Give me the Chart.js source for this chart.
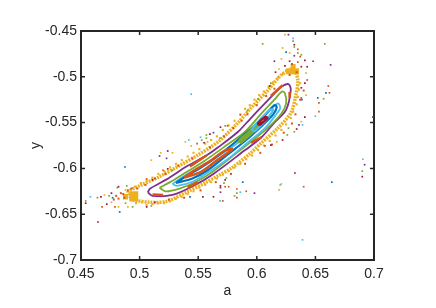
<!DOCTYPE html>
<html>
<head>
<meta charset="utf-8">
<style>
  html, body { margin: 0; padding: 0; background: #fff; }
  canvas { display: block; }
</style>
<script src="https://cdn.jsdelivr.net/npm/chart.js@4/dist/chart.umd.min.js"></script>
</head>
<body>
<canvas id="orbitChart" width="436" height="308"></canvas>
<script>
const xTicks = ["0.45", "0.5", "0.55", "0.6", "0.65", "0.7"];
const yTicks = ["-0.7", "-0.65", "-0.6", "-0.55", "-0.5", "-0.45"];

// closed curves as [a, y]
const bandLoop = [[.494,-.6345],[.509,-.637],[.523,-.636],[.540,-.626],[.557,-.615],[.567,-.608],[.578,-.600],[.595,-.583],[.604,-.572],[.618,-.556],[.629,-.5395],[.633,-.522],[.635,-.5035],[.631,-.4925],[.621,-.498],[.610,-.514],[.595,-.534],[.584,-.550],[.567,-.571],[.549,-.586],[.534,-.597],[.517,-.609],[.500,-.619],[.490,-.626]];
const purpleLoop = [[.507,-.626],[.511,-.630],[.528,-.629],[.546,-.619],[.563,-.606],[.590,-.580],[.604,-.566],[.615,-.550],[.625,-.536],[.629,-.514],[.627,-.508],[.621,-.511],[.610,-.525],[.595,-.545],[.584,-.560],[.567,-.577],[.557,-.586],[.540,-.598],[.523,-.612],[.509,-.622]];
const greenLoop = [[.517,-.621],[.522,-.625],[.534,-.622],[.549,-.614],[.563,-.603],[.581,-.585],[.595,-.571],[.610,-.555],[.621,-.540],[.625,-.529],[.624,-.518],[.6215,-.516],[.615,-.525],[.604,-.540],[.590,-.560],[.575,-.574],[.554,-.593],[.540,-.604],[.526,-.615]];
const cyanLoop = [[.528,-.617],[.532,-.619],[.546,-.614],[.560,-.603],[.577,-.588],[.592,-.572],[.607,-.556],[.616,-.542],[.620,-.534],[.618,-.529],[.610,-.538],[.598,-.555],[.584,-.572],[.569,-.585],[.552,-.598],[.537,-.609]];
const blueLoop = [[.531,-.616],[.545,-.611],[.558,-.602],[.575,-.585],[.591,-.569],[.604,-.554],[.614,-.541],[.617,-.533],[.615,-.531],[.607,-.542],[.594,-.558],[.581,-.572],[.564,-.589],[.550,-.601],[.539,-.609]];
const orangeCore = [[.538,-.610],[.552,-.604],[.564,-.593],[.579,-.579],[.572,-.581],[.560,-.592],[.547,-.602]];
const greenCore = [[.586,-.572],[.596,-.561],[.604,-.550],[.601,-.551],[.592,-.562],[.585,-.570]];
const cyanCore = [[.598,-.560],[.608,-.547],[.614,-.536],[.611,-.536],[.604,-.545],[.596,-.557]];
const redCore = [[.602,-.553],[.609,-.545],[.607,-.544],[.601,-.551]];

// short orange stretches lying on the purple curve
const orangeStretches = [[[.511,-.6285],[.520,-.629]],[[.541,-.621],[.550,-.615]],[[.543,-.598],[.557,-.586]],[[.612,-.521],[.622,-.509]],[[.628,-.5165],[.628,-.523]],[[.595,-.572],[.604,-.566]]];
// thick yellow clumps where the band turns
const leftClumps = [[[.495,-.625],[.495,-.636]],[[.488,-.628],[.488,-.634]]];
const topClumps = [[[.625,-.494],[.636,-.494]],[[.631,-.486],[.631,-.496]]];

// dots making up the outer band
const bandYellow = [[.497,-.638],[.502,-.637],[.506,-.640],[.511,-.639],[.516,-.638],[.521,-.638],[.526,-.636],[.531,-.633],[.536,-.631],[.541,-.628],[.546,-.625],[.551,-.621],[.556,-.618],[.561,-.615],[.566,-.611],[.571,-.607],[.576,-.603],[.581,-.599],[.586,-.595],[.591,-.590],[.596,-.586],[.601,-.580],[.606,-.575],[.611,-.570],[.616,-.564],[.621,-.558],[.625,-.552],[.629,-.545],[.631,-.538],[.634,-.530],[.635,-.522],[.636,-.514],[.637,-.507],[.629,-.491],[.625,-.493],[.622,-.497],[.618,-.501],[.614,-.506],[.610,-.511],[.606,-.516],[.602,-.520],[.598,-.525],[.594,-.531],[.590,-.535],[.586,-.541],[.581,-.548],[.576,-.553],[.571,-.558],[.566,-.565],[.561,-.569],[.556,-.573],[.551,-.579],[.546,-.583],[.541,-.587],[.536,-.591],[.531,-.595],[.526,-.599],[.521,-.603],[.516,-.606],[.511,-.610],[.506,-.613],[.501,-.616],[.496,-.620]];
const bandOrange = [[.480,-.630],[.484,-.627],[.487,-.632],[.490,-.624],[.493,-.622],[.486,-.628],[.482,-.633],[.478,-.634],[.498,-.622],[.505,-.618],[.513,-.611],[.522,-.606],[.533,-.597],[.545,-.589],[.560,-.577],[.572,-.565],[.580,-.556],[.587,-.548],[.592,-.541],[.600,-.531],[.608,-.521],[.615,-.513],[.525,-.634],[.538,-.632],[.552,-.624],[.565,-.615],[.578,-.606],[.590,-.595],[.603,-.583],[.613,-.574],[.623,-.561],[.630,-.551],[.633,-.541],[.637,-.525],[.640,-.515],[.628,-.498],[.630,-.486],[.634,-.495]];

// stray dots, one list per colour
const strayBlue = [[.4875,-.5985],[.477,-.632],[.483,-.6475],[.543,-.631],[.625,-.473],[.659,-.5175],[.6385,-.525],[.652,-.523],[.664,-.615],[.588,-.615]];
const strayCyan = [[.544,-.519],[.542,-.569],[.552,-.566],[.631,-.458],[.650,-.543],[.639,-.5525],[.458,-.631],[.6905,-.590],[.620,-.618],[.586,-.626],[.5686,-.6355],[.639,-.678]];
const strayGreen = [[.557,-.5635],[.553,-.569],[.557,-.567],[.605,-.464],[.658,-.464],[.631,-.461],[.632,-.4675],[.638,-.476],[.635,-.474],[.612,-.507],[.601,-.524],[.592,-.537],[.573,-.5535],[.5686,-.567],[.657,-.524],[.632,-.560],[.627,-.556],[.626,-.5635],[.528,-.602],[.481,-.621],[.489,-.619],[.454,-.6355],[.464,-.632],[.474,-.630],[.488,-.638],[.494,-.642],[.510,-.641],[.690,-.603],[.583,-.627],[.581,-.630],[.574,-.6105],[.572,-.616]];
const strayYellow = [[.539,-.571],[.544,-.5755],[.558,-.571],[.518,-.583],[.528,-.583],[.622,-.4685],[.628,-.474],[.621,-.4805],[.619,-.4915],[.642,-.496],[.642,-.520],[.638,-.549],[.617,-.571],[.510,-.591],[.488,-.6235],[.470,-.629],[.476,-.637],[.482,-.642],[.490,-.642],[.621,-.617],[.619,-.6235],[.624,-.454]];
const strayOrange = [[.549,-.573],[.635,-.470],[.637,-.478],[.635,-.484],[.643,-.5035],[.661,-.510],[.662,-.5175],[.638,-.523],[.653,-.5285],[.653,-.538],[.586,-.5415],[.575,-.5535],[.607,-.5755],[.506,-.6115],[.520,-.602],[.468,-.642],[.479,-.642],[.640,-.620],[.591,-.625],[.583,-.6225],[.583,-.632],[.573,-.620],[.576,-.620],[.571,-.6355]];
const strayPurple = [[.563,-.561],[.627,-.454],[.632,-.477],[.615,-.483],[.648,-.483],[.663,-.487],[.636,-.5525],[.699,-.544],[.517,-.5865],[.523,-.589],[.692,-.596],[.598,-.627],[.569,-.626]];
const strayRed = [[.560,-.5625],[.555,-.572],[.524,-.581],[.632,-.465],[.641,-.482],[.628,-.483],[.638,-.489],[.643,-.489],[.624,-.488],[.616,-.495],[.641,-.507],[.611,-.510],[.638,-.512],[.641,-.544],[.634,-.557],[.569,-.555],[.622,-.569],[.612,-.5745],[.482,-.620],[.511,-.6125],[.524,-.6005],[.454,-.638],[.467,-.631],[.476,-.627],[.4645,-.6585],[.472,-.639],[.506,-.642],[.513,-.637],[.554,-.631],[.563,-.631],[.690,-.609],[.6325,-.605],[.573,-.6125],[.569,-.619],[.569,-.621]];

const BLUE = "#0072BD", ORANGE = "#D95319", YELLOW = "#EDB120", PURPLE = "#7E2F8E",
      GREEN = "#77AC30", CYAN = "#4DBEEE", RED = "#A2142F";
const INK = "#262626";

const toXY = list => list.map(p => ({ x: p[0], y: p[1] }));
const closed = list => [...list, list[0]];

const curve = (list, color, width) => ({
  data: toXY(closed(list)), showLine: true, borderColor: color, borderWidth: width,
  pointRadius: 0, tension: 0.3, fill: false
});
const stroke = (list, color, width) => ({
  data: toXY(list), showLine: true, borderColor: color, borderWidth: width,
  pointRadius: 0, tension: 0, fill: false
});
const dots = (list, color, size) => ({
  data: toXY(list), showLine: false, pointStyle: "rect", pointRadius: size,
  pointBackgroundColor: color, pointBorderWidth: 0
});

// painted bottom to top
const layers = [
  { ...curve(bandLoop, YELLOW, 3.5), borderDash: [2, 1] },
  stroke(leftClumps[0], YELLOW, 9),
  stroke(leftClumps[1], YELLOW, 5),
  stroke(topClumps[0], YELLOW, 6),
  stroke(topClumps[1], YELLOW, 5),
  dots(bandYellow, YELLOW, 1.5),
  dots(bandOrange, ORANGE, 1.4),
  curve(purpleLoop, PURPLE, 1.8),
  curve(greenLoop, GREEN, 1.8),
  curve(cyanLoop, CYAN, 1.8),
  curve(blueLoop, BLUE, 2.2),
  curve(orangeCore, ORANGE, 2.5),
  curve(greenCore, GREEN, 3),
  curve(cyanCore, CYAN, 2.2),
  curve(redCore, RED, 2.5),
  ...orangeStretches.map(s => stroke(s, ORANGE, 2.5)),
  dots(strayBlue, BLUE, 1.2),
  dots(strayCyan, CYAN, 1.2),
  dots(strayGreen, GREEN, 1.2),
  dots(strayYellow, YELLOW, 1.2),
  dots(strayOrange, ORANGE, 1.2),
  dots(strayPurple, PURPLE, 1.2),
  dots(strayRed, RED, 1.2)
];
layers.forEach((d, i) => { d.order = layers.length - i; });

// MATLAB style ticks pointing into the box, on all four sides
const boxTicks = {
  id: "boxTicks",
  afterDraw(chart) {
    const { ctx, chartArea: box, scales } = chart;
    ctx.save();
    ctx.strokeStyle = INK;
    ctx.lineWidth = 1.5;
    ctx.beginPath();
    scales.x.ticks.forEach(t => {
      const px = scales.x.getPixelForValue(t.value);
      ctx.moveTo(px, box.bottom); ctx.lineTo(px, box.bottom - 4);
      ctx.moveTo(px, box.top); ctx.lineTo(px, box.top + 4);
    });
    scales.y.ticks.forEach(t => {
      const py = scales.y.getPixelForValue(t.value);
      ctx.moveTo(box.left, py); ctx.lineTo(box.left + 4, py);
      ctx.moveTo(box.right, py); ctx.lineTo(box.right - 4, py);
    });
    ctx.stroke();
    ctx.restore();
  }
};

const axisLine = { color: INK, width: 2 };
const noGrid = { drawOnChartArea: false, drawTicks: false };
const font = { family: "'Liberation Sans', Arial, sans-serif", size: 14 };

new Chart(document.getElementById("orbitChart"), {
  type: "scatter",
  data: { datasets: layers },
  plugins: [boxTicks],
  options: {
    responsive: false,
    animation: false,
    layout: { padding: 0 },
    plugins: { legend: { display: false }, tooltip: { enabled: false } },
    scales: {
      x: {
        position: "bottom", min: 0.45, max: 0.7,
        border: axisLine, grid: noGrid,
        afterFit: s => { s.height = 48; },
        title: { display: true, text: "a", color: INK, font, padding: { top: 0, bottom: 8 } },
        ticks: {
          stepSize: 0.05, autoSkip: false, maxRotation: 0, color: INK, font, padding: 6,
          callback: (v, i) => xTicks[i]
        }
      },
      y: {
        position: "left", min: -0.7, max: -0.45,
        border: axisLine, grid: noGrid,
        afterFit: s => { s.width = 81; },
        title: { display: true, text: "y", color: INK, font, padding: { top: 28, bottom: 0 } },
        ticks: {
          stepSize: 0.05, autoSkip: false, color: INK, font, padding: 4,
          callback: (v, i) => yTicks[i]
        }
      },
      xTop: {
        position: "top", min: 0.45, max: 0.7,
        border: axisLine, grid: noGrid,
        afterFit: s => { s.height = 31; },
        ticks: { display: false }
      },
      yRight: {
        position: "right", min: -0.7, max: -0.45,
        border: axisLine, grid: noGrid,
        afterFit: s => { s.width = 62; },
        ticks: { display: false }
      }
    }
  }
});
</script>
</body>
</html>
